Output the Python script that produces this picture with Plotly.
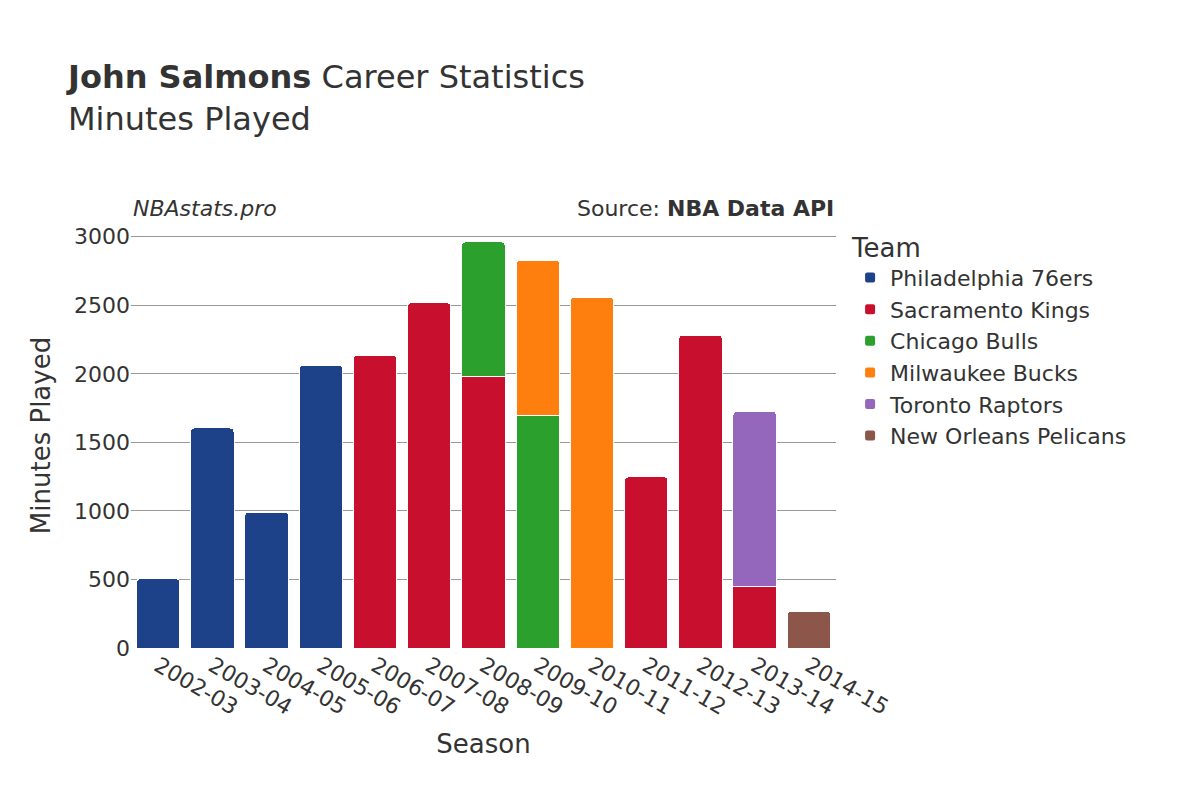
import plotly.graph_objects as go

seasons = ["2002-03", "2003-04", "2004-05", "2005-06", "2006-07", "2007-08", "2008-09",
           "2009-10", "2010-11", "2011-12", "2012-13", "2013-14", "2014-15"]

teams = ["Philadelphia 76ers", "Sacramento Kings", "Chicago Bulls",
         "Milwaukee Bucks", "Toronto Raptors", "New Orleans Pelicans"]
colors = ["#1d428a", "#c8102e", "#2ca02c", "#ff7f0e", "#9467bd", "#8c564b"]

phi = [505, 1605, 992, 2062, None, None, None, None, None, None, None, None, None]
sac = [None, None, None, None, 2136, 2518, 1982, None, None, 1248, 2282, 446, None]
chi = [None, None, None, None, None, None, 980, 1698, None, None, None, None, None]
mil = [None, None, None, None, None, None, None, 1130, 2557, None, None, None, None]
tor = [None, None, None, None, None, None, None, None, None, None, None, 1280, None]
nop = [None, None, None, None, None, None, None, None, None, None, None, None, 268]

values = [phi, sac, chi, mil, tor, nop]

fig = go.Figure()
for name, col, vals in zip(teams, colors, values):
    fig.add_trace(go.Bar(x=seasons, y=vals, name=name, marker_color=col,
                         marker_line_color="white", marker_line_width=1))

fig.update_layout(
    width=1200, height=800,
    barmode="stack", bargap=0.2, barcornerradius=4,
    font=dict(family="DejaVu Sans", size=22, color="#333"),
    plot_bgcolor="white", paper_bgcolor="white",
    title=dict(text="<b>John Salmons</b> Career Statistics<br>Minutes Played",
               x=0.05, y=0.9, font=dict(size=32)),
    margin=dict(l=123, r=372, t=215, b=160, autoexpand=False),
    xaxis=dict(title=dict(text="Season", font=dict(size=26)), tickangle=30,
               type="category"),
    yaxis=dict(title=dict(text="Minutes Played", font=dict(size=26)),
               gridcolor="#999", range=[0, 3100], dtick=500),
    legend=dict(title=dict(text="Team", font=dict(size=26)), x=1.02, y=1.0,
                font=dict(size=22), traceorder="normal", itemsizing="constant"),
    annotations=[
        dict(text="<i>NBAstats.pro</i>", x=0, y=1.0, xref="paper", yref="paper",
             xanchor="left", yanchor="bottom", showarrow=False, font=dict(size=22)),
        dict(text="Source: <b>NBA Data API</b>", x=1, y=1.0, xref="paper", yref="paper",
             xanchor="right", yanchor="bottom", showarrow=False, font=dict(size=22)),
    ],
)

fig.write_html("out.html")
